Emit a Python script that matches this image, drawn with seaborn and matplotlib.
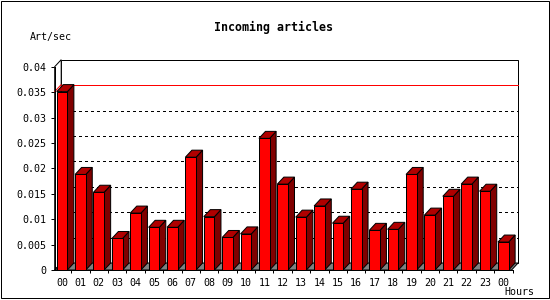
import numpy as np
import pandas as pd
import matplotlib
matplotlib.use("Agg")
import matplotlib.pyplot as plt
from matplotlib.patches import Polygon, Rectangle
import seaborn as sns

# ---- data ----
hour_labels = ["00", "01", "02", "03", "04", "05", "06", "07", "08", "09",
               "10", "11", "12", "13", "14", "15", "16", "17", "18", "19",
               "20", "21", "22", "23", "00"]
art_per_sec = [0.0351, 0.0188, 0.0153, 0.0062, 0.0112, 0.0084, 0.0084, 0.0222,
               0.0105, 0.0064, 0.0071, 0.0259, 0.0169, 0.0104, 0.0126, 0.0092,
               0.0159, 0.0078, 0.0080, 0.0188, 0.0108, 0.0145, 0.0169, 0.0155,
               0.0055]
y_ticks = [0, 0.005, 0.01, 0.015, 0.02, 0.025, 0.03, 0.035, 0.04]
y_tick_labels = ["0", "0.005", "0.01", "0.015", "0.02", "0.025", "0.03", "0.035", "0.04"]
title = "Incoming articles"
y_label = "Art/sec"
x_label = "Hours"

FRONT = "#ff0000"
SIDE = "#800000"
TOP = "#b00000"
FLOOR = "#808080"

sns.set_theme(style="ticks")
mono = ["DejaVu Sans Mono"]
plt.rcParams["font.family"] = mono

W, H, DPI = 550, 300, 100
fig = plt.figure(figsize=(W / DPI, H / DPI), dpi=DPI)
fig.patch.set_facecolor("white")

# axes geometry (pixels)
ax_left_px, ax_right_px = 54.7, 512.5
ax_bottom_px, ax_top_px = 270.0, 66.7
ax = fig.add_axes([ax_left_px / W, 1 - ax_bottom_px / H,
                   (ax_right_px - ax_left_px) / W, (ax_bottom_px - ax_top_px) / H])
ax.set_facecolor("none")

df = pd.DataFrame({"slot": np.arange(len(art_per_sec)), "value": art_per_sec})
bar_w = 0.58
sns.barplot(data=df, x="slot", y="value", color=FRONT, saturation=1, width=bar_w,
            edgecolor="black", linewidth=0.72, ax=ax, zorder=5)

xlim = (-0.40, 24.45)
ylim = (0, 0.04)
ax.set_xlim(*xlim)
ax.set_ylim(*ylim)

px_per_x = (ax_right_px - ax_left_px) / (xlim[1] - xlim[0])
px_per_y = (ax_bottom_px - ax_top_px) / (ylim[1] - ylim[0])
dx = 6.5 / px_per_x
dy = 7.0 / px_per_y

x0, x1 = xlim
ytop = ylim[1]
lw = 0.72

# back plane
ax.add_patch(Polygon([(x0 + dx, dy), (x1 + dx, dy), (x1 + dx, ytop + dy), (x0 + dx, ytop + dy)],
                     closed=True, facecolor="white", edgecolor="black", lw=lw,
                     clip_on=False, zorder=1))
# left wall
ax.add_patch(Polygon([(x0, 0), (x0 + dx, dy), (x0 + dx, ytop + dy), (x0, ytop)],
                     closed=True, facecolor="white", edgecolor="black", lw=lw,
                     clip_on=False, zorder=1.1))
# floor
ax.add_patch(Polygon([(x0, 0), (x1, 0), (x1 + dx, dy), (x0 + dx, dy)],
                     closed=True, facecolor=FLOOR, edgecolor="black", lw=lw,
                     clip_on=False, zorder=1.2))

# dotted grid on back plane
for v in y_ticks[1:-1]:
    ax.plot([x0 + dx, x1 + dx], [v + dy, v + dy], color="black", lw=0.72,
            linestyle=(0, (2.8, 3.8)), antialiased=False, clip_on=False, zorder=2)

# max line (red)
vmax = max(art_per_sec)
ax.plot([x0 + dx, x1 + dx], [vmax + dy, vmax + dy], color="red", lw=0.7,
        antialiased=False, solid_capstyle="butt", clip_on=False, zorder=2.5)
ax.plot([x0, x0 + dx], [vmax, vmax + dy], color="red", lw=lw,
        clip_on=False, zorder=2.5)

# 3D side & top of each bar
for p in ax.patches:
    if not isinstance(p, Rectangle):
        continue
    if p.get_zorder() != 5:
        continue
    bx, by = p.get_x(), p.get_y()
    bw, bh = p.get_width(), p.get_height()
    xr = bx + bw
    yt = by + bh
    side = Polygon([(xr, by), (xr + dx, by + dy), (xr + dx, yt + dy), (xr, yt)],
                   closed=True, facecolor=SIDE, edgecolor="black", lw=lw,
                   clip_on=False, zorder=4.9)
    top = Polygon([(bx, yt), (xr, yt), (xr + dx, yt + dy), (bx + dx, yt + dy)],
                  closed=True, facecolor=TOP, edgecolor="black", lw=lw,
                  clip_on=False, zorder=4.9)
    ax.add_patch(side)
    ax.add_patch(top)

# spines / ticks
for s in ["top", "right"]:
    ax.spines[s].set_visible(False)
for s in ["left", "bottom"]:
    ax.spines[s].set_linewidth(lw)
    ax.spines[s].set_color("black")
    ax.spines[s].set_zorder(6)

ax.set_yticks(y_ticks)
ax.set_yticklabels(y_tick_labels)
ax.set_xticks(np.arange(len(hour_labels)))
ax.set_xticklabels(hour_labels)
ax.set_xticks(np.arange(len(hour_labels)) + 0.5, minor=True)
ax.tick_params(axis="y", which="major", length=2.9, width=lw, pad=3,
               labelsize=7.2, color="black", labelcolor="black")
ax.tick_params(axis="x", which="major", length=0, pad=5.5, labelsize=7.2,
               labelcolor="black")
ax.tick_params(axis="x", which="minor", length=2.2, width=lw, color="black",
               direction="out")
ax.set_xlabel("")
ax.set_ylabel("")

# texts
fig.text(273.5 / W, 1 - 27 / H, title, ha="center", va="center",
         fontsize=8.4, fontweight="bold", family=mono, color="black")
fig.text(30 / W, 1 - 37 / H, y_label, ha="left", va="center",
         fontsize=7.2, family=mono, color="black")
fig.text(534 / W, 1 - 292 / H, x_label, ha="right", va="center",
         fontsize=7.2, family=mono, color="black")

# outer frame
fig.patches.append(Rectangle((0.5 / W, 2.5 / H), 548 / W, 297 / H,
                             transform=fig.transFigure, fill=False,
                             edgecolor="black", lw=lw, zorder=10))

fig.savefig("out.png", dpi=DPI)
